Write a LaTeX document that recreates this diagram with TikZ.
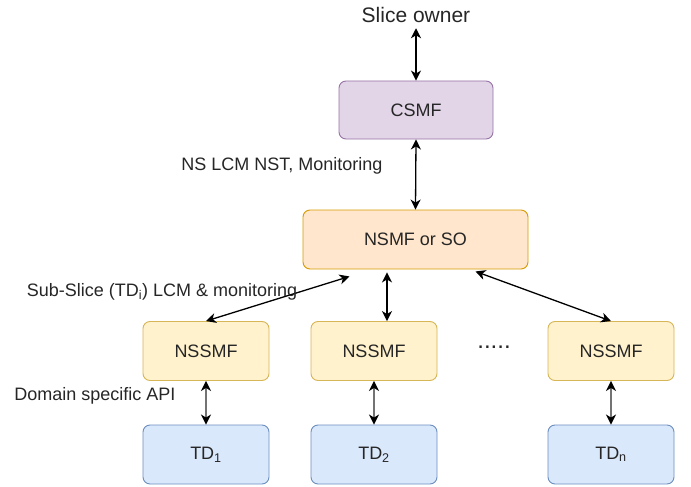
\documentclass[tikz,border=0pt]{standalone}
\usepackage{fontspec}
\setmainfont{Liberation Sans}
\usetikzlibrary{arrows.meta,calc}

\definecolor{csmffill}{HTML}{E1D5E7}
\definecolor{csmfline}{HTML}{9673A6}
\definecolor{nsmffill}{HTML}{FFE6CC}
\definecolor{nsmfline}{HTML}{D79B00}
\definecolor{nssmffill}{HTML}{FFF2CC}
\definecolor{nssmfline}{HTML}{D6B656}
\definecolor{tdfill}{HTML}{DAE8FC}
\definecolor{tdline}{HTML}{6C8EBF}

\tikzset{
  box/.style={draw, rounded corners=7pt, line width=0.9pt, minimum width=126pt, minimum height=59pt, font=\fontsize{18}{21}\selectfont, text=black!85},
  csmfbox/.style={box, fill=csmffill, draw=csmfline, minimum width=154pt, minimum height=58pt},
  nsmfbox/.style={box, fill=nsmffill, draw=nsmfline, minimum width=225pt},
  nssmfbox/.style={box, fill=nssmffill, draw=nssmfline},
  tdbox/.style={box, fill=tdfill, draw=tdline},
  lbl/.style={font=\fontsize{18}{21}\selectfont, text=black!85},
  link/.style={{Stealth[length=10pt,width=10pt,inset=3pt,color=black]}-{Stealth[length=10pt,width=10pt,inset=3pt,color=black]}, line width=1.3pt},
  apilink/.style={link, draw=black!55, line width=2pt}
}

\begin{document}
\begin{tikzpicture}[x=1pt,y=-1pt]
\useasboundingbox (0,0) rectangle (691,487);

% top of the chain
\node[lbl,font=\fontsize{21}{24}\selectfont] (owner) at (416,15) {Slice owner};
\node[csmfbox] (csmf) at (416,110) {CSMF};
\node[nsmfbox] (nsmf) at (415.5,239.5) {NSMF or SO};

% managers of the sub-slices
\node[nssmfbox] (nssmfa) at (206,351) {NSSMF};
\node[nssmfbox] (nssmfb) at (374,351) {NSSMF};
\node[nssmfbox] (nssmfn) at (611,351) {NSSMF};
\node[lbl,font=\fontsize{24}{26}\selectfont] (dots) at (494,347) {.....};

% technology domains
\node[tdbox] (tda) at (206,454.5) {TD\textsubscript{1}};
\node[tdbox] (tdb) at (374,454.5) {TD\textsubscript{2}};
\node[tdbox] (tdn) at (611,454.5) {TD\textsubscript{n}};

\draw[link] ([yshift=-2pt]owner.south) -- (csmf.north);
\draw[link] (csmf.south) -- (nsmf.north);
\node[lbl] (lcm) at (282,166) {NS LCM NST, Monitoring};

\draw[link] ([xshift=-66pt,yshift=-7pt]nsmf.south) -- (nssmfa.north);
\draw[link] ([xshift=-28.5pt,yshift=-3pt]nsmf.south) -- ([xshift=13pt]nssmfb.north);
\draw[link] ([xshift=60pt,yshift=-2pt]nsmf.south) -- (nssmfn.north);
\node[lbl] (sub) at (162,292) {Sub-Slice (TD\textsubscript{i}) LCM \& monitoring};

\draw[apilink] (nssmfa.south) -- (tda.north);
\draw[apilink] (nssmfb.south) -- (tdb.north);
\draw[apilink] (nssmfn.south) -- (tdn.north);
\node[lbl] (api) at (95,396) {Domain specific API};

\end{tikzpicture}
\end{document}
